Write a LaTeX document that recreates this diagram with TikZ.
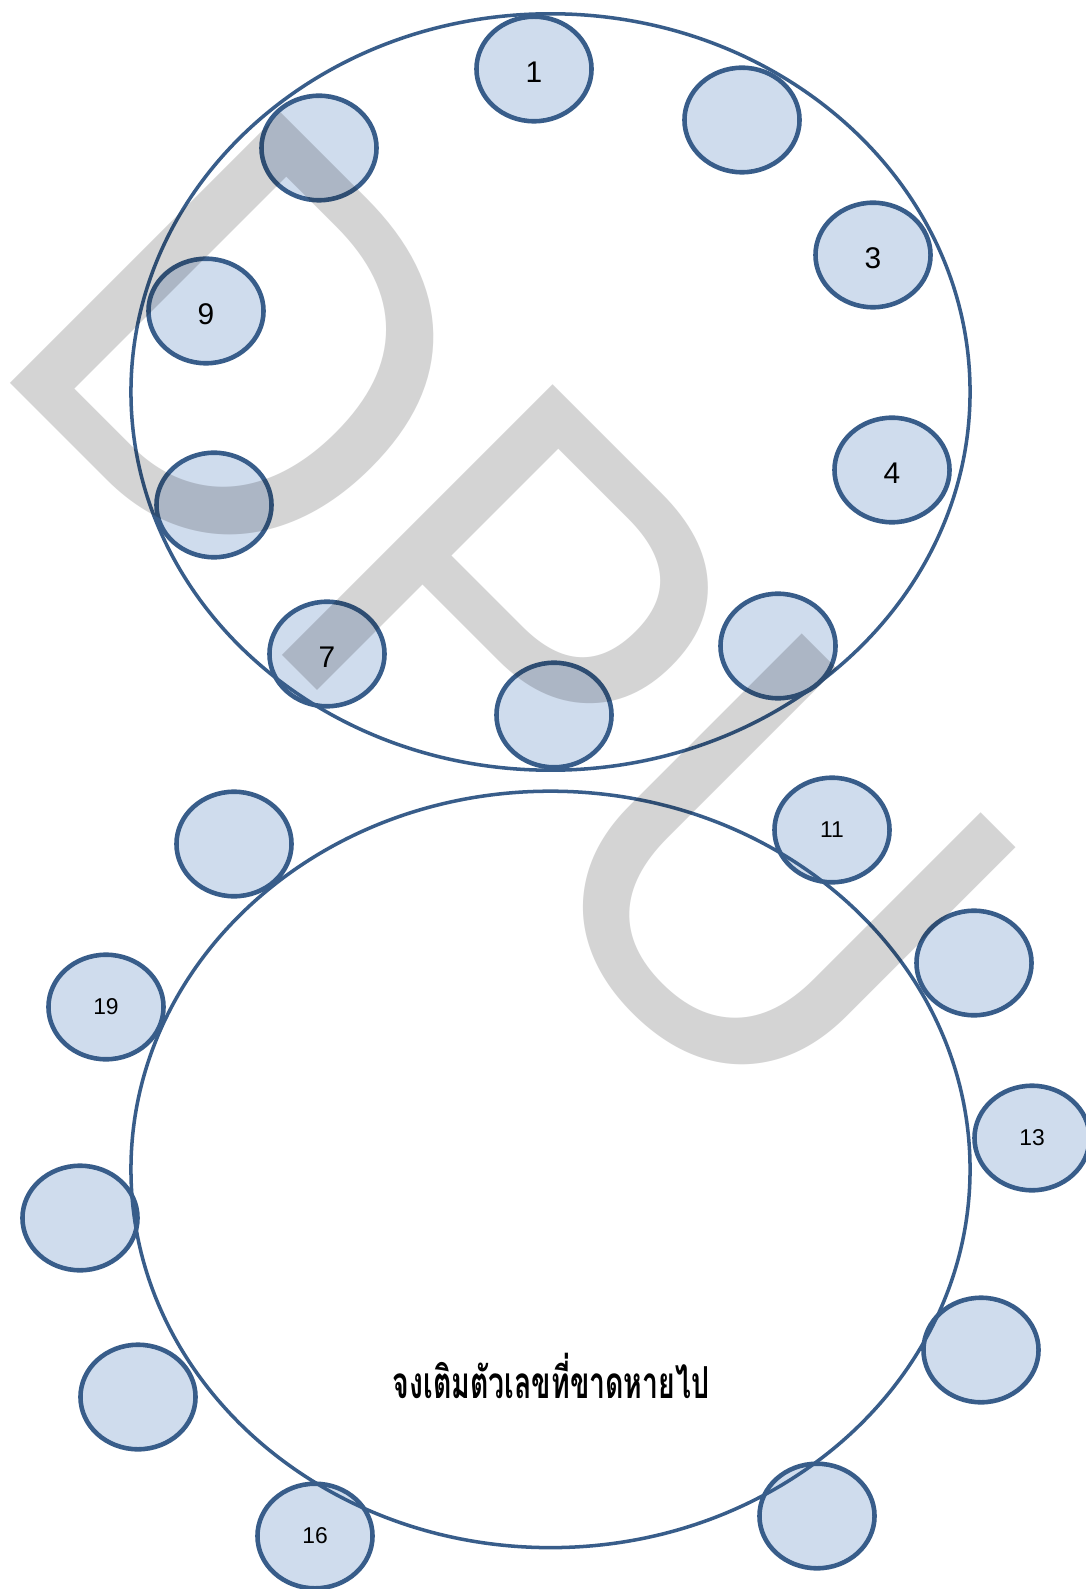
\documentclass[tikz,border=0pt]{standalone}
\usepackage{fontspec}
\setmainfont{Liberation Sans}
\newfontfamily\thaifont[Script=Thai]{Loma}
\usetikzlibrary{shapes.geometric}
\definecolor{rimblue}{RGB}{56,93,138}
\definecolor{dotfill}{RGB}{207,220,237}
\definecolor{wmgray}{RGB}{212,212,212}

\begin{document}
\begin{tikzpicture}[
    x=0.01cm, y=-0.01cm,
    dot/.style={ellipse, draw=rimblue, fill=dotfill, line width=1.3pt, minimum width=1.15cm, minimum height=1.045cm, inner sep=0pt},
    bignum/.style={font=\fontsize{8.5}{10}\selectfont, text height=0.27cm, text depth=0cm},
    smallnum/.style={font=\fontsize{6.5}{8}\selectfont},
    ring/.style={ellipse, draw=rimblue, line width=1pt, minimum width=8.386cm, minimum height=7.56cm, inner sep=0pt},
    wmtext/.style={text=wmgray, inner sep=0pt, outer sep=0pt, font=\fontsize{151.4}{160}\selectfont}
  ]
    \useasboundingbox (0,0) rectangle (1086,1589);
    \clip (0,0) rectangle (1086,1589);
    \fill[white] (0,0) rectangle (1086,1589);
    \node[dot, bignum] (n1) at (534,69) {1};
    \node[dot] (n2) at (742,120) {};
    \node[dot, bignum] (n3) at (873,255) {3};
    \node[dot, bignum] (n4) at (892,470) {4};
    \node[dot] (n5) at (778,646) {};
    \node[dot] (n6) at (554,715) {};
    \node[dot, bignum] (n7) at (327,654) {7};
    \node[dot] (n8) at (214,505) {};
    \node[dot, bignum] (n9) at (206,311) {9};
    \node[dot] (n10) at (319,148) {};
    \node[dot, smallnum] (n11) at (832,830) {11};
    \node[dot] (n12) at (974,963) {};
    \node[dot, smallnum] (n13) at (1032,1138) {13};
    \node[dot] (n14) at (981,1350) {};
    \node[dot] (n15) at (817,1516) {};
    \node[dot, smallnum] (n16) at (315,1536) {16};
    \node[dot] (n17) at (138,1397) {};
    \node[dot] (n18) at (80,1218) {};
    \node[dot, smallnum] (n19) at (106,1007) {19};
    \node[dot] (n20) at (234,844) {};
    \node[ring] (upper) at (550.5,392) {};
    \node[ring] (lower) at (550.5,1169.4) {};
    \node[anchor=base, inner sep=0pt, font=\thaifont\bfseries] (task) at (551,1398) {\resizebox{3.16cm}{!}{\scalebox{1}[1.55]{จงเติมตัวเลขที่ขาดหายไป}}};
    \begin{scope}[blend mode=multiply]
      \node[wmtext, anchor=base west, rotate=-45] (dpu) at (-20,352.7) {\scalebox{1}[1.045]{DPU}};
    \end{scope}
  \end{tikzpicture}
\end{document}
